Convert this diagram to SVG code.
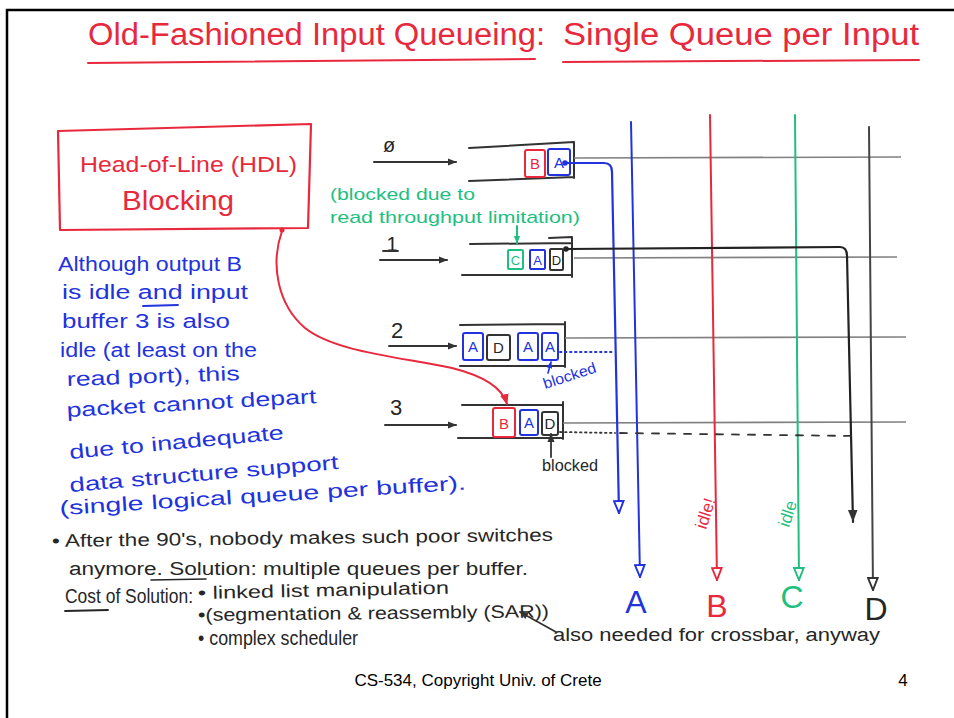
<svg xmlns="http://www.w3.org/2000/svg" width="954" height="718" viewBox="0 0 954 718">
<defs>
<style>
text { font-family: "Liberation Sans", Arial, sans-serif; }
.red { fill: #e8283c; }
.blue { fill: #2233dd; }
.green { fill: #1ebf80; }
.dark { fill: #262626; }
.ln { fill: none; stroke-linecap: round; stroke-linejoin: round; }
.grid { fill: none; stroke: #808080; stroke-width: 1.6; }
.q { fill: none; stroke: #333; stroke-width: 2; stroke-linecap: round; }
.cell { fill: #fff; stroke-width: 2; }
.cr { stroke: #e8283c; }
.cb { stroke: #2233dd; }
.cg { stroke: #1ebf80; }
.cd { stroke: #333; }
.ct { font-size: 15px; text-anchor: middle; }
.ct.sm { font-size: 13px; }
.note { font-size: 20px; }
.blk { font-size: 18px; }
.blk .big { font-size: 20px; }
</style>
<marker id="aIn" viewBox="0 0 10 10" refX="9" refY="5" markerWidth="9" markerHeight="9" markerUnits="userSpaceOnUse" orient="auto"><path d="M0,1 L10,5 L0,9 Z" fill="#333"/></marker>
<marker id="aBlue" viewBox="0 0 10 10" refX="10" refY="5" markerWidth="14" markerHeight="12" markerUnits="userSpaceOnUse" orient="auto"><path d="M0,1 L10,5 L0,9 Z" fill="#fff" stroke="#2233dd" stroke-width="1.6"/></marker>
<marker id="aRed" viewBox="0 0 10 10" refX="10" refY="5" markerWidth="14" markerHeight="12" markerUnits="userSpaceOnUse" orient="auto"><path d="M0,1 L10,5 L0,9 Z" fill="#fff" stroke="#e8283c" stroke-width="1.6"/></marker>
<marker id="aGreen" viewBox="0 0 10 10" refX="10" refY="5" markerWidth="14" markerHeight="12" markerUnits="userSpaceOnUse" orient="auto"><path d="M0,1 L10,5 L0,9 Z" fill="#fff" stroke="#1ebf80" stroke-width="1.6"/></marker>
<marker id="aDark" viewBox="0 0 10 10" refX="10" refY="5" markerWidth="14" markerHeight="12" markerUnits="userSpaceOnUse" orient="auto"><path d="M0,1 L10,5 L0,9 Z" fill="#fff" stroke="#333" stroke-width="1.6"/></marker>
<marker id="aDarkF" viewBox="0 0 10 10" refX="10" refY="5" markerWidth="14" markerHeight="12" markerUnits="userSpaceOnUse" orient="auto"><path d="M0,1 L10,5 L0,9 Z" fill="#333"/></marker>
<marker id="aRedF" viewBox="0 0 10 10" refX="9" refY="5" markerWidth="11" markerHeight="11" markerUnits="userSpaceOnUse" orient="auto"><path d="M0,1 L10,5 L0,9 Z" fill="#e8283c"/></marker>
<marker id="aGreenF" viewBox="0 0 10 10" refX="9" refY="5" markerWidth="8" markerHeight="8" markerUnits="userSpaceOnUse" orient="auto"><path d="M0,1 L10,5 L0,9 Z" fill="#1ebf80"/></marker>
<marker id="aSm" viewBox="0 0 10 10" refX="9" refY="5" markerWidth="9" markerHeight="9" markerUnits="userSpaceOnUse" orient="auto"><path d="M0,1 L10,5 L0,9 Z" fill="#333"/></marker>
<marker id="aSmB" viewBox="0 0 10 10" refX="9" refY="5" markerWidth="7" markerHeight="7" markerUnits="userSpaceOnUse" orient="auto"><path d="M0,1 L10,5 L0,9 Z" fill="#2233dd"/></marker>
</defs>

<rect x="0" y="0" width="954" height="718" fill="#fff"/>
<path d="M7,718 V10 H954" fill="none" stroke="#000" stroke-width="2.5"/>

<g id="title">
<text x="88" y="45" font-size="31" class="red" textLength="457" lengthAdjust="spacingAndGlyphs">Old-Fashioned Input Queueing:</text>
<text x="563" y="45" font-size="31" class="red" textLength="356" lengthAdjust="spacingAndGlyphs">Single Queue per Input</text>
<path class="ln" d="M88,63 L535,59" stroke="#e8283c" stroke-width="2"/>
<path class="ln" d="M563,62 L919,60" stroke="#e8283c" stroke-width="2"/>
</g>

<g id="hol-box">
<path d="M58,131 L311,124 L308,228 L60,230 Z" fill="none" stroke="#e8283c" stroke-width="2.2" stroke-linejoin="round"/>
<text x="80" y="172" font-size="22" class="red" textLength="217" lengthAdjust="spacingAndGlyphs">Head-of-Line (HDL)</text>
<text x="122" y="210" font-size="27" class="red" textLength="112" lengthAdjust="spacingAndGlyphs">Blocking</text>
</g>

<g id="note-blue" class="blue note">
<text x="58" y="271" textLength="184" lengthAdjust="spacingAndGlyphs">Although output B</text>
<text x="62" y="299" textLength="186" lengthAdjust="spacingAndGlyphs">is idle and input</text>
<path class="ln" d="M143,306 L178,305" stroke="#2233dd" stroke-width="1.8"/>
<text x="62" y="328" textLength="168" lengthAdjust="spacingAndGlyphs">buffer 3 is also</text>
<text x="60" y="357" textLength="197" lengthAdjust="spacingAndGlyphs">idle (at least on the</text>
<text x="67" y="386" textLength="173" lengthAdjust="spacingAndGlyphs" transform="rotate(-2 67 386)">read port), this</text>
<text x="67" y="417" textLength="250" lengthAdjust="spacingAndGlyphs" transform="rotate(-3.2 67 417)">packet cannot depart</text>
<text x="70" y="459" textLength="215" lengthAdjust="spacingAndGlyphs" transform="rotate(-5.3 70 459)">due to inadequate</text>
<text x="70" y="492" textLength="270" lengthAdjust="spacingAndGlyphs" transform="rotate(-4.9 70 492)">data structure support</text>
<text x="60" y="515" textLength="407" lengthAdjust="spacingAndGlyphs" transform="rotate(-3.6 60 515)">(single logical queue per buffer).</text>
</g>

<g id="note-green" class="green">
<text x="330" y="200" font-size="17" textLength="145" lengthAdjust="spacingAndGlyphs">(blocked due to</text>
<text x="330" y="223" font-size="17" textLength="250" lengthAdjust="spacingAndGlyphs">read throughput limitation)</text>
</g>

<g id="queue-0">
<text x="389" y="152" font-size="20" class="dark" text-anchor="middle">ø</text>
<path class="q" d="M469,148 L574,142 M469,181 L574,177 M574,142 L574,178"/>
<rect class="cell cr" x="525" y="150" width="20" height="27" rx="2"/>
<text class="ct red" x="535" y="169">B</text>
<rect class="cell cb" x="548" y="149" width="22" height="26" rx="2"/>
<text class="ct blue" x="559" y="168">A</text>
</g>

<g id="queue-1">
<text x="392" y="251" font-size="20" class="dark" text-anchor="middle">1</text>
<path class="q" d="M470,244 L572,243 M462,275 L572,275 M572,237 L572,277 M549,238 L572,237"/>
<rect class="cell cg" x="508" y="250" width="15" height="19" rx="1"/>
<text class="ct sm green" x="515.5" y="265">C</text>
<rect class="cell cb" x="530" y="250" width="15" height="19" rx="1"/>
<text class="ct sm blue" x="537.5" y="265">A</text>
<rect class="cell cd" x="550" y="249" width="13" height="21" rx="1"/>
<text class="ct sm dark" x="556.5" y="265">D</text>
</g>

<g id="queue-2">
<text x="397" y="338" font-size="22" class="dark" text-anchor="middle">2</text>
<path class="q" d="M460,325 L565,324 M460,366 L565,366 M565,322 L565,367"/>
<rect class="cell cb" x="463" y="333" width="20" height="27" rx="2"/>
<text class="ct blue" x="473" y="352">A</text>
<rect class="cell cd" x="487" y="335" width="23" height="25" rx="2"/>
<text class="ct dark" x="498.5" y="353">D</text>
<rect class="cell cb" x="518" y="333" width="20" height="27" rx="2"/>
<text class="ct blue" x="528" y="352">A</text>
<rect class="cell cb" x="542" y="333" width="16" height="27" rx="2"/>
<text class="ct blue" x="550" y="352">A</text>
<text x="545" y="389" font-size="15" class="blue" textLength="55" lengthAdjust="spacingAndGlyphs" transform="rotate(-18 545 389)">blocked</text>
</g>

<g id="queue-3">
<text x="396" y="415" font-size="22" class="dark" text-anchor="middle">3</text>
<path class="q" d="M462,405 L563,405 M458,438 L563,438 M563,402 L563,439"/>
<rect class="cell cr" x="493" y="408" width="22" height="29" rx="2"/>
<text class="ct red" x="504" y="429">B</text>
<rect class="cell cb" x="520" y="410" width="18" height="25" rx="2"/>
<text class="ct blue" x="529" y="428">A</text>
<rect class="cell cd" x="542" y="412" width="16" height="23" rx="2"/>
<text class="ct dark" x="550" y="429">D</text>
<text x="542" y="471" font-size="16" class="dark" textLength="56" lengthAdjust="spacingAndGlyphs">blocked</text>
</g>

<g id="outputs">
<text x="636" y="613" font-size="32" class="blue" text-anchor="middle">A</text>
<text x="717" y="617" font-size="32" class="red" text-anchor="middle">B</text>
<text x="792" y="608" font-size="32" class="green" text-anchor="middle">C</text>
<text x="876" y="620" font-size="32" class="dark" text-anchor="middle">D</text>
<text x="0" y="0" font-size="17" class="red" transform="translate(706,530) rotate(-72)">idle!</text>
<text x="0" y="0" font-size="17" class="green" transform="translate(789,528) rotate(-72)">idle</text>
</g>

<g id="notes-bottom" class="dark blk">
<text x="52" y="547" textLength="501" lengthAdjust="spacingAndGlyphs" transform="rotate(-0.7 52 547)">• After the 90's, nobody makes such poor switches</text>
<text x="69" y="575" textLength="459" lengthAdjust="spacingAndGlyphs">anymore. Solution: multiple queues per buffer.</text>
<path class="ln" d="M151,580 L206,579" stroke="#262626" stroke-width="1.6"/>
<text class="big" x="65" y="603" textLength="128" lengthAdjust="spacingAndGlyphs">Cost of Solution:</text>
<path class="ln" d="M65,611 L108,610" stroke="#262626" stroke-width="1.8"/>
<text x="198" y="599" textLength="251" lengthAdjust="spacingAndGlyphs" transform="rotate(-1.2 198 599)">• linked list manipulation</text>
<text x="198" y="621" textLength="351" lengthAdjust="spacingAndGlyphs" transform="rotate(-0.6 198 621)">•(segmentation &amp; reassembly (SAR))</text>
<text class="big" x="198" y="645" textLength="160" lengthAdjust="spacingAndGlyphs">• complex scheduler</text>
<text x="553" y="641" textLength="327" lengthAdjust="spacingAndGlyphs">also needed for crossbar, anyway</text>
</g>

<g id="footer">
<text x="478" y="686" font-size="17" fill="#000" text-anchor="middle">CS-534, Copyright Univ. of Crete</text>
<text x="903" y="686" font-size="17" fill="#000" text-anchor="middle">4</text>
</g>

<g id="connectors">
<path class="grid" d="M574,158 L901,157"/>
<path class="grid" d="M574,258 L897,257"/>
<path class="grid" d="M565,338 L906,337"/>
<path class="grid" d="M563,423 L906,422"/>
<path class="ln" d="M631,122 L640,577" stroke="#2233dd" stroke-width="2" marker-end="url(#aBlue)"/>
<path class="ln" d="M710,115 L717,580" stroke="#e8283c" stroke-width="2" marker-end="url(#aRed)"/>
<path class="ln" d="M795,115 L799,580" stroke="#1ebf80" stroke-width="2" marker-end="url(#aGreen)"/>
<path class="ln" d="M869,127 L873,590" stroke="#444" stroke-width="2" marker-end="url(#aDark)"/>
<path class="ln" d="M374,162 L456,162" stroke="#333" stroke-width="2" marker-end="url(#aIn)"/>
<path class="ln" d="M380,260 L447,260" stroke="#333" stroke-width="2" marker-end="url(#aIn)"/>
<path class="ln" d="M389,346 L456,346" stroke="#333" stroke-width="2" marker-end="url(#aIn)"/>
<path class="ln" d="M385,425 L456,425" stroke="#333" stroke-width="2" marker-end="url(#aIn)"/>
<path class="ln" d="M383,251 L398,251" stroke="#333" stroke-width="1.8"/>
<circle cx="565" cy="163" r="2.8" fill="#2233dd"/>
<path class="ln" d="M565,163 L604,163 Q612,163 612,172 L619,513" stroke="#2233dd" stroke-width="2.2" marker-end="url(#aBlue)"/>
<circle cx="566" cy="249" r="2.8" fill="#222"/>
<path class="ln" d="M566,249 L840,247 Q847,247 847,256 L853,522" stroke="#222" stroke-width="2.2" marker-end="url(#aDarkF)"/>
<path class="ln" d="M560,352 L615,352" stroke="#2233dd" stroke-width="1.8" stroke-dasharray="1.5,3.5"/>
<path class="ln" d="M560,432 L615,433" stroke="#333" stroke-width="1.8" stroke-dasharray="1.5,3.5"/>
<path class="ln" d="M620,433 L853,436" stroke="#333" stroke-width="1.8" stroke-dasharray="7,9"/>
<path class="ln" d="M282,231 C270,265 278,305 305,328 C335,352 400,357 452,368 C488,377 503,390 507,404" stroke="#e8283c" stroke-width="2" marker-end="url(#aRedF)"/>
<circle cx="282" cy="230" r="2.5" fill="#e8283c"/>
<path class="ln" d="M517,226 L517,243" stroke="#1ebf80" stroke-width="2" marker-end="url(#aGreenF)"/>
<path class="ln" d="M548,373 L551,362" stroke="#2233dd" stroke-width="1.6" marker-end="url(#aSmB)"/>
<path class="ln" d="M551,457 L551,434" stroke="#333" stroke-width="1.8" marker-end="url(#aSm)"/>
<path class="ln" d="M556,632 L520,612" stroke="#333" stroke-width="1.8" marker-end="url(#aSm)"/>
</g>
</svg>
